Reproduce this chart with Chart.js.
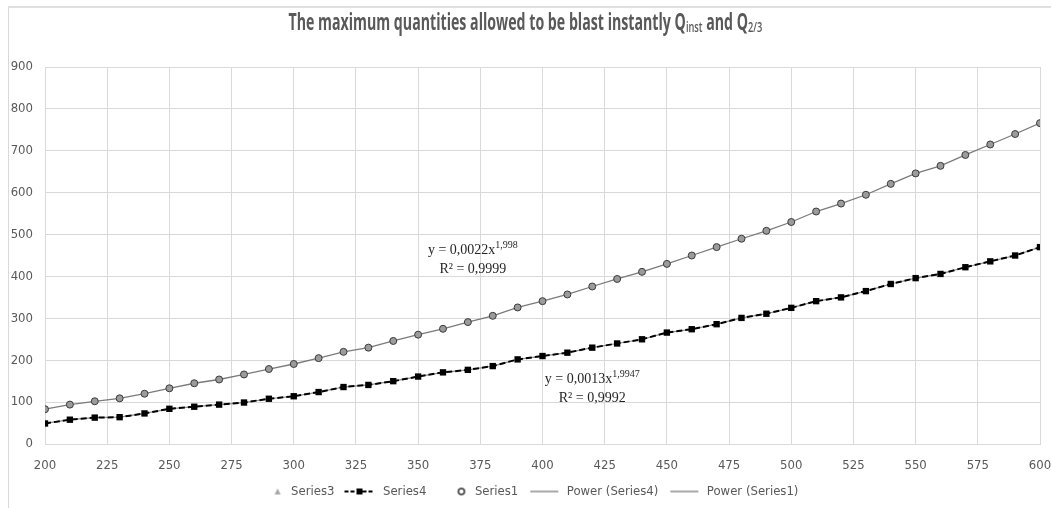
<!DOCTYPE html>
<html>
<head>
<meta charset="utf-8">
<script src="https://cdn.jsdelivr.net/npm/chart.js@4.4.1/dist/chart.umd.min.js"></script>
<style>
  html, body { margin: 0; padding: 0; background: #fff; overflow: hidden; }
  #wrap { position: relative; width: 1051px; height: 508px; }
  #frame { position: absolute; left: 8px; top: 6px; width: 1100px; height: 600px;
           border-left: 1px solid #d9d9d9; border-top: 2px solid #e0e0e0; }
  #title { position: absolute; left: 0; top: 5px; width: 1051px; text-align: center; }
  #title span { display: inline-block; white-space: nowrap; transform-origin: center;
                font-family: 'Open Sans', sans-serif; font-weight: bold; font-size: 23px; color: #595959; }
  #title sub { font-size: 15px; font-weight: 600; vertical-align: -2px; }
  canvas { position: absolute; left: 0; top: 0; }
</style>
</head>
<body>
<div id="wrap">
  <div id="frame"></div>
  <canvas id="chart" width="1051" height="508"></canvas>
  <div id="title"><span>The maximum quantities allowed to be blast instantly Q<sub>inst</sub> and Q<sub>2/3</sub></span></div>
</div>
<script>
// 데이터
const xValues = [200, 210, 220, 230, 240, 250, 260, 270, 280, 290, 300, 310, 320, 330, 340, 350, 360, 370, 380, 390,
                 400, 410, 420, 430, 440, 450, 460, 470, 480, 490, 500, 510, 520, 530, 540, 550, 560, 570, 580, 590, 600];
const series1 = [83, 94, 102, 109, 120, 133, 145, 154, 166, 179, 191, 205, 220, 230, 246, 261, 275, 291, 306, 326,
                 341, 357, 376, 394, 411, 430, 450, 470, 490, 509, 530, 555, 574, 595, 621, 646, 664, 690, 715, 740, 766];
const series4 = [49, 58, 63, 64, 73, 84, 89, 94, 99, 108, 114, 124, 136, 141, 150, 161, 171, 177, 186, 202,
                 210, 218, 230, 240, 250, 266, 274, 286, 301, 311, 325, 341, 350, 365, 382, 396, 406, 422, 436, 450, 470];
const series3 = [];
const seriesNames = ['Series3', 'Series4', 'Series1', 'Power (Series4)', 'Power (Series1)'];
const xTicks = { min: 200, max: 600, step: 25 };
const yTicks = { min: 0, max: 900, step: 100 };
const trendLabels = [
    { x: 372, y: 463, text: 'y = 0,0022x', sup: '1,998' },
    { x: 372, y: 418, text: 'R² = 0,9999', sup: '' },
    { x: 420, y: 154, text: 'y = 0,0013x', sup: '1,9947' },
    { x: 420, y: 110, text: 'R² = 0,9992', sup: '' }
];

const FONT = "'DejaVu Sans Condensed', 'DejaVu Sans', sans-serif";
const toXY = (ys) => ys.map((y, i) => ({ x: xValues[i], y: y }));

// 제목 폭 맞추기 (엑셀 제목이 좁은 글꼴)
const titleSpan = document.querySelector('#title span');
titleSpan.style.transform = 'scaleX(' + (474 / titleSpan.offsetWidth) + ')';

// 범례 아이콘
function makeIcon(draw) {
    const c = document.createElement('canvas');
    c.width = 34; c.height = 12;
    draw(c.getContext('2d'));
    return c;
}
const icons = [
    makeIcon(g => { g.fillStyle = '#a6a6a6'; g.beginPath(); g.moveTo(27, 3); g.lineTo(30, 9); g.lineTo(24, 9); g.closePath(); g.fill(); }),
    makeIcon(g => { g.strokeStyle = '#000'; g.lineWidth = 2; g.setLineDash([4, 2]); g.beginPath(); g.moveTo(2, 6); g.lineTo(32, 6); g.stroke();
                    g.fillStyle = '#000'; g.fillRect(14, 3, 6, 6); }),
    makeIcon(g => { g.strokeStyle = '#333'; g.lineWidth = 1.5; g.beginPath(); g.arc(27, 6, 3, 0, Math.PI * 2); g.stroke(); }),
    makeIcon(g => { g.strokeStyle = '#8c8c8c'; g.lineWidth = 1.5; g.beginPath(); g.moveTo(4, 6); g.lineTo(32, 6); g.stroke(); }),
    makeIcon(g => { g.strokeStyle = '#8c8c8c'; g.lineWidth = 1.5; g.beginPath(); g.moveTo(4, 6); g.lineTo(32, 6); g.stroke(); })
];

// 추세선 수식 텍스트
const trendTextPlugin = {
    id: 'trendText',
    afterDatasetsDraw(chart) {
        const { ctx, scales } = chart;
        ctx.save();
        ctx.fillStyle = '#262626';
        ctx.textBaseline = 'middle';
        trendLabels.forEach(t => {
            const px = scales.x.getPixelForValue(t.x);
            const py = scales.y.getPixelForValue(t.y);
            ctx.font = "14px 'Liberation Serif', serif";
            const w1 = ctx.measureText(t.text).width;
            ctx.font = "10px 'Liberation Serif', serif";
            const w2 = t.sup ? ctx.measureText(t.sup).width : 0;
            const left = px - (w1 + w2) / 2;
            ctx.font = "14px 'Liberation Serif', serif";
            ctx.textAlign = 'left';
            ctx.fillText(t.text, left, py);
            if (t.sup) {
                ctx.font = "10px 'Liberation Serif', serif";
                ctx.fillText(t.sup, left + w1, py - 5);
            }
        });
        ctx.restore();
    }
};

const chart = new Chart(document.getElementById('chart'), {
    type: 'line',
    data: {
        datasets: [
            { label: seriesNames[0], data: toXY(series3), showLine: false, pointStyle: 'triangle',
              pointRadius: 3, backgroundColor: '#a6a6a6', borderColor: '#a6a6a6', order: 0 },
            { label: seriesNames[1], data: toXY(series4), borderColor: '#000', borderWidth: 2, borderDash: [6, 3],
              pointStyle: 'rect', pointRadius: 4.5, pointBackgroundColor: '#000', pointBorderColor: '#000',
              pointBorderWidth: 0, order: 2 },
            { label: seriesNames[2], data: toXY(series1), showLine: false, pointStyle: 'circle', pointRadius: 3.5,
              pointBackgroundColor: '#9b9b9b', pointBorderColor: '#3a3a3a', pointBorderWidth: 1, order: 1 },
            { label: seriesNames[3], data: toXY(series4), borderColor: '#8c8c8c', borderWidth: 1.2,
              pointRadius: 0, order: 3 },
            { label: seriesNames[4], data: toXY(series1), borderColor: '#7a7a7a', borderWidth: 1.3,
              pointRadius: 0, order: 3 }
        ]
    },
    options: {
        responsive: false,
        animation: false,
        layout: { padding: { left: 9, right: 11, top: 67, bottom: 0 } },
        scales: {
            x: {
                type: 'linear', min: xTicks.min, max: xTicks.max,
                ticks: { stepSize: xTicks.step, color: '#595959', padding: 14, font: { family: FONT, size: 13 } },
                grid: { color: '#d9d9d9', drawTicks: false },
                border: { color: '#d9d9d9' },
                afterFit: s => { s.height = 33; s.paddingLeft = 0; s.paddingRight = 0; }
            },
            y: {
                min: yTicks.min, max: yTicks.max,
                ticks: { stepSize: yTicks.step, color: '#595959', padding: 12, font: { family: FONT, size: 13 } },
                grid: { color: '#d9d9d9', drawTicks: false },
                border: { display: false },
                afterFit: s => { s.width = 36; s.paddingTop = 0; s.paddingBottom = 0; }
            }
        },
        plugins: {
            title: { display: false },
            tooltip: { enabled: false },
            legend: {
                position: 'bottom',
                labels: {
                    usePointStyle: true, pointStyleWidth: 34, padding: 8,
                    color: '#595959', font: { family: FONT, size: 13 },
                    generateLabels: c => c.data.datasets.map((ds, i) => ({
                        text: ds.label, pointStyle: icons[i], fontColor: '#595959',
                        fillStyle: 'transparent', strokeStyle: 'transparent', lineWidth: 0,
                        hidden: false, datasetIndex: i
                    }))
                }
            }
        }
    },
    plugins: [trendTextPlugin]
});
</script>
</body>
</html>
